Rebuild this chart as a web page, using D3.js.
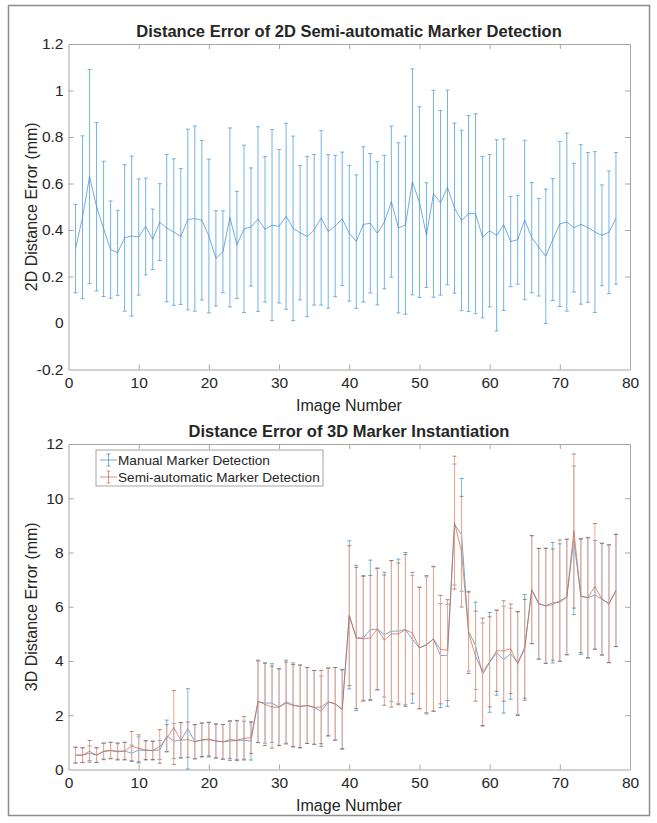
<!DOCTYPE html>
<html>
<head>
<meta charset="utf-8">
<script src="https://cdn.jsdelivr.net/npm/d3@7"></script>
<style>
  body { margin: 0; background: #fff; }
  text { font-family: 'Liberation Sans', Arial, sans-serif; fill: #262626; }
  .title { font-weight: bold; font-size: 16.5px; }
  .axis-label { font-size: 16px; }
  .tick text { font-size: 15.5px; fill: #262626; }
  .domain, .tick line { stroke: #a6a6a6; }
</style>
</head>
<body>
<svg width="657" height="823"></svg>
<script>
  const imageNumbers = [1, 2, 3, 4, 5, 6, 7, 8, 9, 10, 11, 12, 13, 14, 15, 16, 17, 18, 19, 20,
    21, 22, 23, 24, 25, 26, 27, 28, 29, 30, 31, 32, 33, 34, 35, 36, 37, 38, 39, 40,
    41, 42, 43, 44, 45, 46, 47, 48, 49, 50, 51, 52, 53, 54, 55, 56, 57, 58, 59, 60,
    61, 62, 63, 64, 65, 66, 67, 68, 69, 70, 71, 72, 73, 74, 75, 76, 77, 78];

  // 2D semi-automatic detection: mean and error
  const mean2D = [0.32, 0.455, 0.63, 0.5, 0.405, 0.316, 0.302, 0.366, 0.374, 0.37,
    0.415, 0.36, 0.434, 0.408, 0.391, 0.372, 0.445, 0.449, 0.442, 0.374,
    0.278, 0.306, 0.454, 0.336, 0.405, 0.413, 0.447, 0.403, 0.421, 0.416,
    0.459, 0.407, 0.388, 0.372, 0.401, 0.452, 0.394, 0.417, 0.448, 0.386,
    0.35, 0.424, 0.429, 0.386, 0.434, 0.522, 0.409, 0.421, 0.607, 0.52,
    0.378, 0.556, 0.517, 0.583, 0.494, 0.441, 0.471, 0.47, 0.369, 0.397,
    0.377, 0.423, 0.35, 0.358, 0.443, 0.367, 0.326, 0.287, 0.359, 0.426,
    0.434, 0.41, 0.424, 0.411, 0.391, 0.377, 0.39, 0.45];
  const err2D = [0.19, 0.35, 0.46, 0.362, 0.291, 0.209, 0.183, 0.315, 0.344, 0.25,
    0.208, 0.13, 0.165, 0.317, 0.315, 0.292, 0.389, 0.398, 0.343, 0.331,
    0.205, 0.176, 0.385, 0.23, 0.36, 0.254, 0.397, 0.313, 0.411, 0.33,
    0.4, 0.397, 0.289, 0.345, 0.324, 0.375, 0.33, 0.304, 0.287, 0.292,
    0.287, 0.334, 0.3, 0.308, 0.287, 0.325, 0.366, 0.383, 0.486, 0.41,
    0.225, 0.445, 0.397, 0.419, 0.366, 0.388, 0.421, 0.43, 0.347, 0.328,
    0.411, 0.369, 0.194, 0.191, 0.343, 0.237, 0.21, 0.289, 0.262, 0.355,
    0.383, 0.277, 0.343, 0.322, 0.346, 0.217, 0.264, 0.283];

  // 3D instantiation: manual detection
  const meanManual = [0.53, 0.53, 0.6, 0.53, 0.66, 0.7, 0.65, 0.68, 0.6, 0.72,
    0.7, 0.7, 0.72, 1.24, 1.05, 1.08, 1.5, 1.03, 1.08, 1.1,
    1.05, 1.02, 1.05, 1.07, 1.08, 1.05, 2.5, 2.45, 2.45, 2.3,
    2.5, 2.38, 2.32, 2.36, 2.29, 2.15, 2.49, 2.42, 2.22, 5.7,
    4.85, 4.85, 5.15, 5.18, 4.97, 5.1, 5.1, 5.16, 4.8, 4.48,
    4.6, 4.81, 4.2, 4.21, 9.03, 8.65, 5.1, 4.56, 3.5, 3.95,
    4.3, 4.05, 4.27, 3.93, 4.5, 6.63, 6.11, 6.04, 6.15, 6.16,
    6.36, 8.45, 6.38, 6.33, 6.44, 6.28, 6.11, 6.6];
  const errManual = [0.29, 0.27, 0.27, 0.27, 0.3, 0.3, 0.3, 0.32, 0.3, 0.48,
    0.35, 0.35, 0.35, 0.58, 0.65, 0.65, 1.48, 0.63, 0.62, 0.64,
    0.63, 0.64, 0.72, 0.74, 0.7, 0.7, 1.5, 1.48, 1.45, 1.42,
    1.53, 1.55, 1.53, 1.4, 1.36, 1.3, 1.25, 1.34, 1.47, 2.73,
    2.68, 2.3, 2.57, 2.23, 2.3, 2.6, 2.66, 2.84, 2.36, 2.24,
    2.5, 2.66, 1.92, 1.88, 2.23, 2.08, 1.47, 1.61, 1.9, 1.84,
    1.56, 1.97, 1.68, 1.9, 1.95, 1.99, 2.04, 2.12, 2.22, 2.16,
    2.13, 2.74, 2.14, 2.21, 2.0, 2.06, 2.17, 2.07];

  // 3D instantiation: semi-automatic detection
  const meanSemi = [0.53, 0.53, 0.67, 0.53, 0.68, 0.7, 0.68, 0.68, 0.86, 0.78,
    0.72, 0.7, 0.85, 1.15, 1.55, 1.08, 1.1, 1.02, 1.1, 1.12,
    1.05, 1.02, 1.1, 1.08, 1.15, 1.17, 2.51, 2.4, 2.3, 2.3,
    2.45, 2.36, 2.33, 2.36, 2.29, 2.3, 2.49, 2.42, 2.22, 5.67,
    4.85, 4.82, 4.85, 5.18, 4.77, 5.0, 5.0, 5.15, 5.03, 4.48,
    4.6, 4.82, 4.42, 4.4, 9.1, 8.03, 5.04, 4.18, 3.6, 3.97,
    4.38, 4.37, 4.45, 3.9, 4.45, 6.63, 6.11, 6.03, 6.08, 6.22,
    6.36, 8.79, 6.4, 6.33, 6.75, 6.28, 6.11, 6.6];
  const errSemi = [0.29, 0.27, 0.4, 0.27, 0.3, 0.3, 0.3, 0.32, 0.54, 0.5,
    0.35, 0.33, 0.62, 0.5, 1.36, 0.65, 0.65, 0.63, 0.62, 0.62,
    0.62, 0.64, 0.7, 0.72, 0.8, 0.58, 1.52, 1.52, 1.51, 1.41,
    1.51, 1.51, 1.52, 1.4, 1.36, 1.35, 1.25, 1.34, 1.45, 2.58,
    2.6, 2.3, 2.3, 2.25, 2.4, 2.7, 2.61, 2.77, 2.24, 2.24,
    2.55, 2.67, 2.0, 1.86, 2.45, 2.04, 1.5, 1.66, 1.98, 1.66,
    1.5, 1.85, 1.65, 1.91, 1.82, 1.99, 2.04, 2.12, 2.05, 2.24,
    2.13, 2.84, 2.09, 2.22, 2.32, 2.06, 2.17, 2.07];

  const xTicks = [0, 10, 20, 30, 40, 50, 60, 70, 80];
  const yTicks2D = [-0.2, 0, 0.2, 0.4, 0.6, 0.8, 1, 1.2];
  const yTicks3D = [0, 2, 4, 6, 8, 10, 12];
  const seriesNames = ['Manual Marker Detection', 'Semi-automatic Marker Detection'];

  const blue = { bar: '#7db9e2', cap: '#4f8fc0', line: '#3f86c2' };
  const orange = { bar: '#f2a68c', cap: '#9a6a5c', line: '#c8664a' };

  const svg = d3.select('svg');
  const width = +svg.attr('width');
  const height = +svg.attr('height');

  // figure frame
  svg.append('rect')
    .attr('x', 8.5).attr('y', 5.5)
    .attr('width', 641).attr('height', 810)
    .attr('fill', 'none').attr('stroke', '#8c8c8c').attr('stroke-width', 1.5);

  const toRows = (means, errs) => imageNumbers.map((n, i) => ({ n, m: means[i], e: errs[i] }));

  const drawBars = (g, xScale, yScale, rows, color) => {
    const bars = g.append('g').attr('stroke-width', 1);
    bars.selectAll('line.v').data(rows)
      .enter().append('line')
        .attr('stroke', color.bar)
        .attr('x1', d => xScale(d.n)).attr('x2', d => xScale(d.n))
        .attr('y1', d => yScale(d.m - d.e)).attr('y2', d => yScale(d.m + d.e));
    [-1, 1].forEach(s => {
      bars.selectAll('line.c' + s).data(rows)
        .enter().append('line')
          .attr('stroke', color.cap)
          .attr('stroke-opacity', 0.8)
          .attr('x1', d => xScale(d.n) - 2).attr('x2', d => xScale(d.n) + 2)
          .attr('y1', d => yScale(d.m + s * d.e)).attr('y2', d => yScale(d.m + s * d.e));
    });
  };

  const drawLine = (g, xScale, yScale, rows, color) => {
    g.append('path').datum(rows)
      .attr('fill', 'none')
      .attr('stroke', color.line)
      .attr('stroke-opacity', 0.8)
      .attr('stroke-width', 0.9)
      .attr('d', d3.line().x(d => xScale(d.n)).y(d => yScale(d.m)));
  };

  const render = (p) => {
    const xScale = d3.scaleLinear().domain([0, 80]).range([68.5, 630]);
    const yScale = d3.scaleLinear().domain(p.yDomain).range([p.bottom, p.top]);
    const g = svg.append('g');

    g.append('g').attr('transform', `translate(0,${p.bottom})`)
      .call(d3.axisBottom(xScale).tickValues(xTicks).tickSize(-5).tickPadding(7).tickSizeOuter(0));
    g.append('g').attr('transform', `translate(0,${p.top})`)
      .call(d3.axisTop(xScale).tickValues(xTicks).tickSize(-5).tickFormat('').tickSizeOuter(0));
    g.append('g').attr('transform', `translate(68.5,0)`)
      .call(d3.axisLeft(yScale).tickValues(p.yTicks).tickSize(-5).tickPadding(5).tickSizeOuter(0)
        .tickFormat(d => d3.format('')(d).replace('−', '-')));
    g.append('g').attr('transform', `translate(630,0)`)
      .call(d3.axisRight(yScale).tickValues(p.yTicks).tickSize(-5).tickFormat('').tickSizeOuter(0));
    g.selectAll('.tick').filter(d => d === 0 || d === 80 || d === p.yDomain[0] || d === p.yDomain[1])
      .select('line').remove();

    // MATLAB order: every series' bars, then lines on top of the same series
    p.series.forEach(s => {
      drawBars(g, xScale, yScale, s.rows, s.color);
      drawLine(g, xScale, yScale, s.rows, s.color);
    });

    g.append('text').attr('class', 'title')
      .attr('x', 349).attr('y', p.top - 7)
      .attr('text-anchor', 'middle')
      .text(p.title);
    g.append('text').attr('class', 'axis-label')
      .attr('x', 349).attr('y', p.bottom + 41)
      .attr('text-anchor', 'middle')
      .text('Image Number');
    g.append('text').attr('class', 'axis-label')
      .attr('transform', `translate(37,${(p.top + p.bottom) / 2}) rotate(-90)`)
      .attr('text-anchor', 'middle')
      .text(p.yLabel);
  };

  render({
    top: 44, bottom: 369.5, yDomain: [-0.2, 1.2], yTicks: yTicks2D,
    title: 'Distance Error of 2D Semi-automatic Marker Detection',
    yLabel: '2D Distance Error (mm)',
    series: [{ rows: toRows(mean2D, err2D), color: { bar: '#74b4e0', cap: '#5a9fd0', line: '#3f8ccb' } }]
  });

  render({
    top: 444, bottom: 769.5, yDomain: [0, 12], yTicks: yTicks3D,
    title: 'Distance Error of 3D Marker Instantiation',
    yLabel: '3D Distance Error (mm)',
    series: [
      { rows: toRows(meanManual, errManual), color: blue },
      { rows: toRows(meanSemi, errSemi), color: orange }
    ]
  });

  // legend
  const legend = svg.append('g').attr('transform', 'translate(96,450)');
  legend.append('rect')
    .attr('width', 227).attr('height', 36)
    .attr('fill', '#fff').attr('stroke', '#a6a6a6').attr('stroke-width', 1);
  [blue, orange].forEach((c, i) => {
    const ly = 10 + i * 17;
    const item = legend.append('g').attr('stroke', c.line).attr('stroke-opacity', 0.7);
    item.append('line').attr('x1', 4).attr('x2', 21).attr('y1', ly).attr('y2', ly);
    item.append('line').attr('x1', 12.5).attr('x2', 12.5).attr('y1', ly - 6).attr('y2', ly + 6);
    item.append('line').attr('x1', 10.5).attr('x2', 14.5).attr('y1', ly - 6).attr('y2', ly - 6);
    item.append('line').attr('x1', 10.5).attr('x2', 14.5).attr('y1', ly + 6).attr('y2', ly + 6);
    legend.append('text')
      .attr('x', 22).attr('y', ly).attr('dy', '0.35em')
      .style('font-size', '13.6px')
      .text(seriesNames[i]);
  });
</script>
</body>
</html>
